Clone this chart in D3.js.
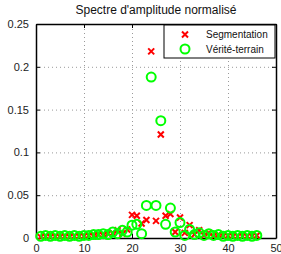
<!DOCTYPE html>
<html>
<head>
<meta charset="utf-8">
<script src="https://cdn.jsdelivr.net/npm/d3@7"></script>
<style>
  body { margin: 0; background: #fff; }
  svg { display: block; font-family: "Liberation Sans", Arial, sans-serif; }
</style>
</head>
<body>
<svg id="chart" width="281" height="254"></svg>
<script>
// chart values
const freqs = d3.range(1, 47);
const segmentation = [0.001, 0.002, 0.001, 0.002, 0.001, 0.002, 0.001, 0.002, 0.002, 0.002,
  0.003, 0.002, 0.004, 0.003, 0.005, 0.006, 0.009, 0.005, 0.010, 0.027,
  0.026, 0.017, 0.021, 0.218, 0.020, 0.121, 0.026, 0.028, 0.007, 0.024,
  0.006, 0.015, 0.004, 0.009, 0.003, 0.006, 0.002, 0.004, 0.002, 0.003,
  0.002, 0.002, 0.002, 0.002, 0.002, 0.003];
const verite = [0.002, 0.003, 0.002, 0.003, 0.002, 0.003, 0.002, 0.003, 0.002, 0.003,
  0.003, 0.004, 0.004, 0.005, 0.004, 0.007, 0.005, 0.009, 0.007, 0.015,
  0.016, 0.005, 0.038, 0.188, 0.038, 0.137, 0.016, 0.035, 0.007, 0.018,
  0.003, 0.010, 0.004, 0.006, 0.003, 0.005, 0.003, 0.004, 0.002, 0.003,
  0.002, 0.003, 0.002, 0.003, 0.002, 0.003];
const xTicks = [0, 10, 20, 30, 40, 50];
const yTicks = [0, 0.05, 0.1, 0.15, 0.2, 0.25];
const seriesNames = ["Segmentation", "Vérité-terrain"];
const title = "Spectre d'amplitude normalisé";

const buildChart = (svg_name) => {
    let chart = d3.select(svg_name);
    let margin = { left: 36, right: 5, top: 24, bottom: 16 };
    let width = 281, height = 254;

    let x = d3.scaleLinear().domain([0, 50]).range([margin.left, width - margin.right]);
    let y = d3.scaleLinear().domain([0, 0.25]).range([height - margin.bottom, margin.top]);

    // grid
    let grid = chart.append("g").attr("stroke", "#9a9a9a").attr("stroke-width", 1)
        .attr("stroke-dasharray", "1,3");
    grid.selectAll(".gx").data(xTicks.slice(1, -1)).enter().append("line")
        .attr("x1", d => x(d) + 0.5).attr("x2", d => x(d) + 0.5)
        .attr("y1", y(0)).attr("y2", y(0.25));
    grid.selectAll(".gy").data(yTicks.slice(1, -1)).enter().append("line")
        .attr("x1", x(0)).attr("x2", x(50))
        .attr("y1", d => y(d) + 0.5).attr("y2", d => y(d) + 0.5);

    // axes, ticks inward
    let fmt = d => d3.format("")(+d.toFixed(2));
    let bottomAxis = d3.axisBottom(x).tickValues(xTicks).tickSizeInner(-4).tickSizeOuter(0).tickPadding(6);
    let leftAxis = d3.axisLeft(y).tickValues(yTicks).tickSizeInner(-4).tickSizeOuter(0).tickPadding(7).tickFormat(fmt);
    let topAxis = d3.axisTop(x).tickValues(xTicks).tickSizeInner(-4).tickSizeOuter(0).tickFormat("");
    let rightAxis = d3.axisRight(y).tickValues(yTicks).tickSizeInner(-4).tickSizeOuter(0).tickFormat("");

    let styleAxis = g => {
        g.selectAll("path").attr("stroke", "#000").attr("stroke-width", 1.5);
        g.selectAll("line").attr("stroke", "#000");
        g.selectAll("text").attr("fill", "#222").style("font-size", "11px")
            .style("font-family", "'Liberation Sans', Arial, sans-serif");
    };
    chart.append("g").attr("transform", "translate(0," + y(0) + ")").call(bottomAxis).call(styleAxis);
    chart.append("g").attr("transform", "translate(" + x(0) + ",0)").call(leftAxis).call(styleAxis);
    chart.append("g").attr("transform", "translate(0," + y(0.25) + ")").call(topAxis).call(styleAxis);
    chart.append("g").attr("transform", "translate(" + x(50) + ",0)").call(rightAxis).call(styleAxis);

    // title
    chart.append("text").attr("x", (x(0) + x(50)) / 2).attr("y", 14)
        .attr("text-anchor", "middle").style("font-size", "12px").attr("fill", "#111")
        .text(title);

    // crosses for segmentation
    let cross = (sel, cx, cy, s) => {
        sel.append("path")
            .attr("d", "M" + (cx - s) + "," + (cy - s) + "L" + (cx + s) + "," + (cy + s) +
                "M" + (cx - s) + "," + (cy + s) + "L" + (cx + s) + "," + (cy - s))
            .attr("stroke", "#ff0000").attr("stroke-width", 2).attr("fill", "none");
    };
    let segG = chart.append("g");
    freqs.forEach((f, i) => cross(segG, x(f), y(segmentation[i]), 3));

    // circles for ground truth
    chart.append("g").selectAll("circle").data(freqs).enter().append("circle")
        .attr("cx", d => x(d))
        .attr("cy", (d, i) => y(verite[i]))
        .attr("r", 4.5)
        .attr("fill", "none")
        .attr("stroke", "#00ff00")
        .attr("stroke-width", 2);

    // legend
    let legend = chart.append("g").attr("transform", "translate(164,25)");
    legend.append("rect").attr("x", 0).attr("y", 0).attr("width", 111).attr("height", 33)
        .attr("fill", "#fff").attr("stroke", "#000").attr("stroke-width", 1);
    cross(legend, 21, 9.5, 3);
    legend.append("circle").attr("cx", 21).attr("cy", 24).attr("r", 4.5)
        .attr("fill", "none").attr("stroke", "#00ff00").attr("stroke-width", 2);
    legend.selectAll(".lt").data(seriesNames).enter().append("text")
        .attr("x", 42).attr("y", (d, i) => 9.5 + i * 14.5).attr("dy", ".35em")
        .style("font-size", "10px").attr("fill", "#111")
        .text(d => d);
}

buildChart("#chart");
</script>
</body>
</html>
